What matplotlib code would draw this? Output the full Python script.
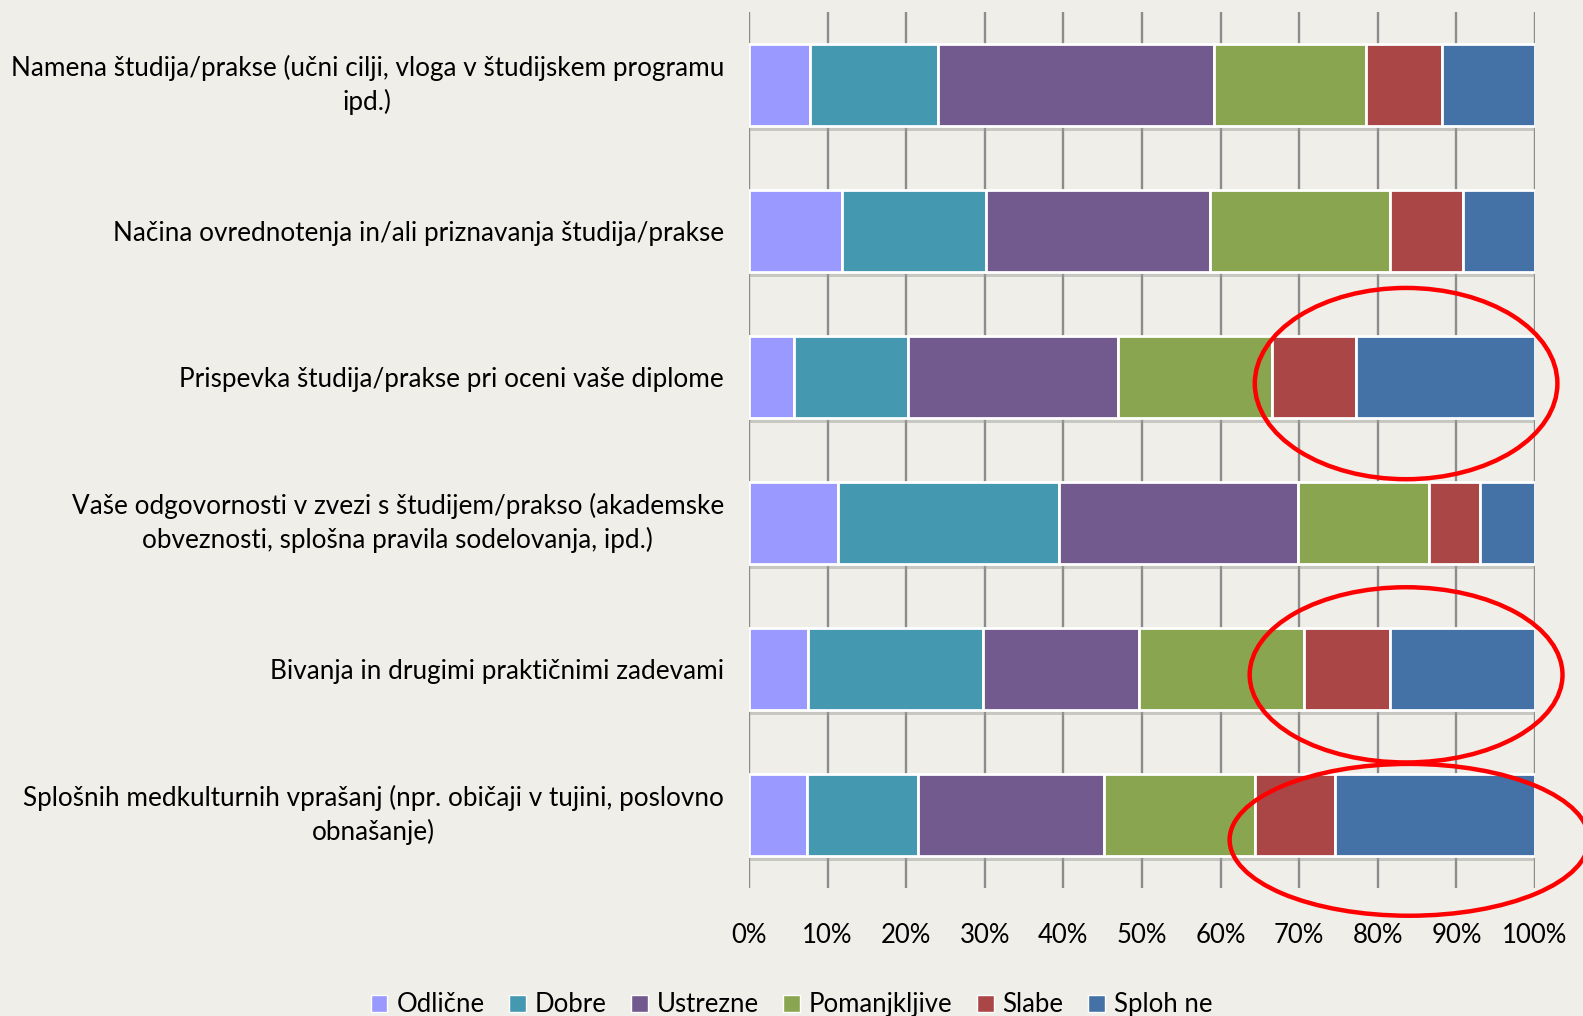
import matplotlib
matplotlib.use("Agg")
import matplotlib.pyplot as plt
from matplotlib.patches import Ellipse, Patch
import numpy as np

categories = [
    "Namena študija/prakse (učni cilji, vloga v študijskem programu\nipd.)",
    "Načina ovrednotenja in/ali priznavanja študija/prakse",
    "Prispevka študija/prakse pri oceni vaše diplome",
    "Vaše odgovornosti v zvezi s študijem/prakso (akademske\nobveznosti, splošna pravila sodelovanja, ipd.)",
    "Bivanja in drugimi praktičnimi zadevami",
    "Splošnih medkulturnih vprašanj (npr. običaji v tujini, poslovno\nobnašanje)",
]
series_names = ["Odlične", "Dobre", "Ustrezne", "Pomanjkljive", "Slabe", "Sploh ne"]
odlicne      = [7.8, 11.8, 5.7, 11.3, 7.5, 7.4]
dobre        = [16.3, 18.4, 14.5, 28.2, 22.3, 14.1]
ustrezne     = [35.1, 28.5, 26.7, 30.3, 19.8, 23.7]
pomanjkljive = [19.3, 22.9, 19.7, 16.7, 21.0, 19.2]
slabe        = [9.7, 9.2, 10.6, 6.5, 10.9, 10.1]
sploh_ne     = [11.8, 9.2, 22.8, 7.0, 18.5, 25.5]
xtick_labels = ["0%", "10%", "20%", "30%", "40%", "50%", "60%", "70%", "80%", "90%", "100%"]

colors = ["#9999FF", "#4499B0", "#72598E", "#8AA550", "#AA4746", "#4472A6"]
bg = "#EFEEE9"
narrow = ["Liberation Sans Narrow", "Lato", "DejaVu Sans"]

plt.rcParams["font.family"] = ["Lato", "DejaVu Sans"]
fig = plt.figure(figsize=(15.83, 10.16), dpi=100, facecolor=bg)
W, H = 1583, 1016
ax = fig.add_axes([749 / W, 1 - 888 / H, (1535 - 749) / W, (888 - 12) / H])
ax.set_facecolor(bg)

series = [odlicne, dobre, ustrezne, pomanjkljive, slabe, sploh_ne]
data = np.array(series, dtype=float)
totals = data.sum(axis=0)
pct = data / totals * 100
y = np.arange(len(categories))
h = 0.555

# shadow
ax.barh(y + 0.035, 100 * np.ones(len(y)), height=h, left=0, color="#9a9a96",
        alpha=0.45, zorder=1.5, linewidth=0)
left = np.zeros(len(categories))
for name, vals, c in zip(series_names, pct, colors):
    ax.barh(y, vals, left=left, height=h, color=c, edgecolor="white",
            linewidth=2, label=name, zorder=2)
    left += vals

ax.set_xlim(0, 100)
ax.set_ylim(len(categories) - 0.5, -0.5)
ax.set_xticks(np.arange(0, 101, 10))
ax.set_xticklabels(xtick_labels, family=narrow, fontsize=18.5)
ax.set_yticks(y)
ax.set_yticklabels(categories, fontsize=18.8)
for t in ax.get_yticklabels():
    t.set_multialignment("center")
    t.set_linespacing(1.4)
    if "\n" in t.get_text():
        t.set_verticalalignment("center")
ax.tick_params(axis="x", length=0, pad=25)
ax.tick_params(axis="y", length=0, pad=18)
ax.xaxis.grid(True, color="#8c8c8c", linewidth=1.7, zorder=0)
ax.set_axisbelow(True)
for s in ax.spines.values():
    s.set_visible(False)

# red annotation ellipses
for cx, cy, w, hh in [(83.6, 2.045, 38.5, 1.31), (83.6, 4.04, 39.8, 1.2), (84.0, 5.17, 45.7, 1.04)]:
    e = Ellipse((cx, cy), w, hh, fill=False, edgecolor="#FF0000", linewidth=3.2,
                zorder=5, clip_on=False)
    ax.add_patch(e)

handles = [Patch(facecolor=c, edgecolor="white", linewidth=1) for c in colors]
fig.legend(handles, series_names, loc="lower center", bbox_to_anchor=(0.5, -0.024),
           ncol=6, frameon=False, handlelength=0.65, handleheight=0.65, handletextpad=0.35,
           columnspacing=0.95, prop={"family": narrow, "size": 18.5})

fig.savefig("out.png", dpi=100, facecolor=bg)
